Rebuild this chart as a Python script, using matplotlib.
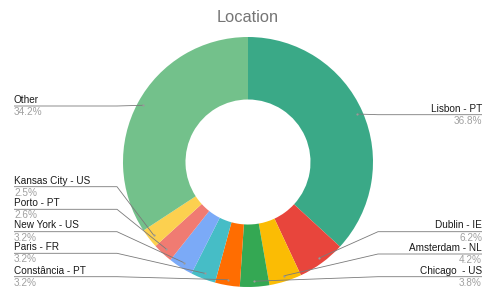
import matplotlib.pyplot as plt
import numpy as np

#===Data===#
LABELS = ['Lisbon - PT', 'Dublin - IE', 'Amsterdam - NL', 'Chicago  - US', 'Constância - PT',
          'Paris - FR', 'New York - US', 'Porto - PT', 'Kansas City - US', 'Other']
VALUES = [36.8, 6.2, 4.2, 3.8, 3.2, 3.2, 3.2, 2.6, 2.5, 34.2]
COLORS = ['#3aa987', '#e8453c', '#fbbc04', '#34a853', '#ff6d01',
          '#46bdc6', '#7baaf7', '#f07b72', '#fcd04f', '#73c18b']

#===Layout (pixels, y from top)===#
W, H = 500, 302
CX, CY = 248, 162
R_OUT = 125
R_IN = 62.5
# side, y of the leader line under the label
LABEL_POS = {
    'Lisbon - PT': ('right', 114.7),
    'Dublin - IE': ('right', 231.7),
    'Amsterdam - NL': ('right', 254),
    'Chicago  - US': ('right', 276.7),
    'Constância - PT': ('left', 276.7),
    'Paris - FR': ('left', 253.3),
    'New York - US': ('left', 231.7),
    'Porto - PT': ('left', 209.3),
    'Kansas City - US': ('left', 186.7),
    'Other': ('left', 106),
}
LEFT_X, RIGHT_X = 14, 482
LEFT_ELBOW, RIGHT_ELBOW = 117, 378
LINE_COLOR = '#7a7a7a'


def py(y):
    return H - y


plt.rcParams['font.family'] = ['Liberation Sans', 'DejaVu Sans']

fig = plt.figure(figsize=(W / 100, H / 100), dpi=100)
ax = fig.add_axes([0, 0, 1, 1])

wedges, _ = ax.pie(VALUES, colors=COLORS, startangle=90, counterclock=False,
                   radius=R_OUT, center=(CX, py(CY)),
                   wedgeprops=dict(width=R_OUT - R_IN, edgecolor='none'))

for w, label, val in zip(wedges, LABELS, VALUES):
    mid = np.deg2rad((w.theta1 + w.theta2) / 2)
    ax_x = CX + 0.955 * R_OUT * np.cos(mid)
    ax_y = py(CY) + 0.955 * R_OUT * np.sin(mid)
    side, ly = LABEL_POS[label]
    if side == 'right':
        elbow, edge, ha = RIGHT_ELBOW, RIGHT_X, 'right'
    else:
        elbow, edge, ha = LEFT_ELBOW, LEFT_X, 'left'
    ax.plot([ax_x, elbow, edge], [ax_y, py(ly), py(ly)], color=LINE_COLOR, lw=0.6,
            solid_capstyle='butt')
    ax.plot(ax_x, ax_y, 'o', ms=1.6, color='#9a9a9a', mec='none')
    ax.text(edge, py(ly) + 1.2, label, ha=ha, va='bottom', fontsize=7.2, color='#1a1a1a')
    ax.text(edge, py(ly) - 1.0, f'{val}%', ha=ha, va='top', fontsize=7.2, color='#a0a0a0')

ax.text(CX, py(18), 'Location', ha='center', va='center', fontsize=11.8, color='#757575')

ax.set_xlim(0, W)
ax.set_ylim(0, H)
ax.set_aspect('auto')
ax.axis('off')

fig.savefig('out.png', dpi=100, facecolor='white')
